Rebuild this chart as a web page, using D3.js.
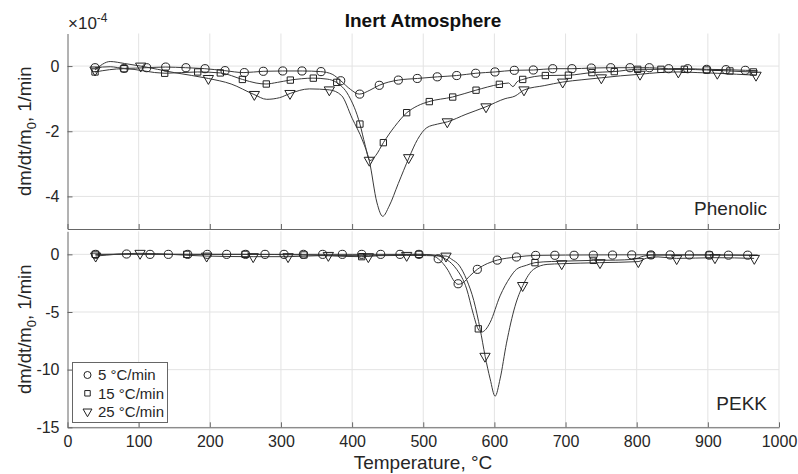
<!DOCTYPE html>
<html><head><meta charset="utf-8">
<script src="https://cdn.jsdelivr.net/npm/d3@7/dist/d3.min.js"></script>
<style>body{margin:0;background:#fff}svg{display:block}text{font-family:"Liberation Sans",Arial,sans-serif}</style>
</head><body>
<script>
// ---------- DATA ----------
const seriesNames = ["5 °C/min", "15 °C/min", "25 °C/min"];
const xTicks = [0,100,200,300,400,500,600,700,800,900,1000];
const phenolicTicks = [0,-2,-4];
const pekkTicks = [0,-5,-10,-15];

// Phenolic (×1e-4) lines [T, value]
const phen5Line = [[38.7,-0.05],[60,-0.02],[80,-0.07],[111,-0.05],[138,-0.03],[166,-0.05],[193,-0.08],[221,-0.14],[248,-0.2],[275,-0.16],[302,-0.15],[330,-0.15],[356,-0.17],[372,-0.25],[384,-0.45],[398,-0.72],[410,-0.86],[425,-0.74],[438,-0.59],[465,-0.43],[492,-0.38],[520,-0.33],[547,-0.29],[574,-0.22],[601,-0.18],[628,-0.13],[655,-0.12],[682,-0.08],[709,-0.08],[736,-0.06],[763,-0.05],[791,-0.05],[818,-0.05],[845,-0.08],[872,-0.08],[898,-0.1],[926,-0.11],[953,-0.13],[970,-0.14]];
const phen15Line = [[38.7,-0.18],[79,-0.08],[137,-0.22],[183,-0.18],[215,-0.21],[246,-0.41],[265,-0.52],[279,-0.55],[295,-0.5],[313,-0.43],[345,-0.37],[365,-0.4],[378,-0.5],[395,-0.9],[411,-1.78],[418,-2.4],[425,-2.9],[433,-2.75],[444,-2.35],[460,-1.85],[477,-1.43],[492,-1.22],[508,-1.09],[541,-0.95],[574,-0.74],[607,-0.56],[620,-0.52],[626,-0.63],[632,-0.48],[640,-0.41],[672,-0.29],[704,-0.28],[737,-0.2],[768,-0.17],[801,-0.1],[834,-0.1],[867,-0.1],[898,-0.12],[931,-0.15],[964,-0.18],[970,-0.18]];
const phen25Line = [[38.7,-0.12],[60,0.14],[80,0.08],[103,0.0],[150,-0.2],[198,-0.38],[230,-0.55],[262,-0.87],[280,-1.02],[298,-0.97],[313,-0.84],[340,-0.7],[368,-0.73],[385,-0.9],[400,-1.6],[415,-2.3],[424,-2.89],[435,-4.2],[443,-4.61],[452,-4.3],[465,-3.6],[480,-2.81],[492,-2.25],[505,-1.89],[520,-1.78],[534,-1.71],[560,-1.48],[588,-1.25],[615,-1.0],[629,-0.92],[642,-0.73],[670,-0.6],[696,-0.49],[723,-0.42],[750,-0.36],[777,-0.3],[805,-0.25],[831,-0.2],[858,-0.18],[886,-0.2],[913,-0.22],[940,-0.25],[968,-0.28]];
// Phenolic markers
const phen5Marks = [[38.7,-0.05],[79.5,-0.07],[111.3,-0.05],[138,-0.03],[166.5,-0.05],[193.3,-0.08],[221.4,-0.14],[248.5,-0.2],[275.2,-0.16],[302.5,-0.15],[329.6,-0.15],[356.3,-0.17],[384,-0.45],[410.7,-0.86],[438.2,-0.59],[465,-0.43],[491.6,-0.38],[519.7,-0.33],[547,-0.29],[573.7,-0.22],[600.8,-0.18],[628,-0.13],[654.7,-0.12],[682,-0.08],[709,-0.08],[736.2,-0.06],[763.5,-0.05],[790.6,-0.05],[817.7,-0.05],[845,-0.08],[871.7,-0.08],[898.4,-0.1],[925.5,-0.11],[952.6,-0.13]];
const phen15Marks = [[38.7,-0.18],[79.4,-0.08],[136.6,-0.22],[183,-0.18],[214.8,-0.21],[245.8,-0.41],[279.4,-0.55],[313.2,-0.43],[345.5,-0.37],[378.4,-0.5],[411,-1.78],[443.9,-2.35],[476.7,-1.43],[508.5,-1.09],[541.4,-0.95],[574.2,-0.74],[607,-0.56],[639.8,-0.41],[671.6,-0.29],[704,-0.28],[737,-0.2],[768.5,-0.17],[801.4,-0.1],[834,-0.1],[867,-0.1],[898.4,-0.12],[931,-0.15],[964,-0.18]];
const phen25Marks = [[38.7,-0.12],[102.9,0.0],[198,-0.38],[262.6,-0.87],[312.7,-0.84],[368,-0.73],[424.2,-2.89],[479.5,-2.81],[533.8,-1.71],[588.2,-1.25],[641.6,-0.73],[696,-0.49],[750.3,-0.36],[804.7,-0.25],[858.5,-0.18],[913.3,-0.22],[967.7,-0.28]];

// PEKK lines
const pekk5Line = [[39.6,0],[83,0.03],[116,0],[200,0],[300,0],[400,0],[494,0],[510,-0.05],[521,-0.38],[535,-1.4],[542,-2.2],[549,-2.6],[556,-2.46],[565,-1.9],[576,-1.3],[590,-0.8],[604,-0.5],[631,-0.23],[658,-0.09],[700,-0.06],[740,-0.05],[800,-0.04],[900,-0.05],[970,-0.06]];
const pekk15Line = [[39,-0.05],[100,0.02],[168,0],[250,0],[332,-0.05],[413,-0.2],[450,-0.05],[494,0],[515,-0.05],[528,-0.29],[540,-0.8],[547,-1.3],[561,-3.0],[570,-5.1],[577,-6.46],[582,-6.74],[588,-6.5],[594,-5.9],[608,-3.6],[622,-2.0],[631,-1.3],[645,-0.95],[657,-0.72],[680,-0.62],[702,-0.58],[739,-0.52],[770,-0.5],[795,-0.43],[810,-0.15],[820,-0.06],[900,-0.05],[970,-0.1]];
const pekk25Line = [[39.6,-0.15],[102,0.09],[196,-0.15],[261,-0.2],[310,-0.2],[367,-0.09],[423,-0.12],[477,-0.09],[532,-0.15],[540,-0.43],[551,-1.0],[561,-2.2],[571,-4.0],[580,-6.5],[587,-8.84],[594,-10.8],[601,-12.3],[608,-10.8],[617,-7.7],[629,-4.5],[640,-2.7],[655,-1.3],[674,-0.87],[695,-0.81],[748,-0.72],[802,-0.63],[815,-0.3],[830,-0.22],[856,-0.35],[910,-0.29],[965,-0.35]];
// PEKK markers
const pekk5Marks = [[39.6,0],[83,0.03],[116,0],[141.7,0],[169,0],[196.5,0],[223.7,0],[250.4,0],[277.6,0],[304.3,0],[331.5,0],[358.7,0],[386.3,0],[413.5,0],[440.2,0],[467.3,0],[494,0],[521,-0.38],[549,-2.55],[576,-1.3],[604,-0.5],[631,-0.23],[658,-0.09],[685,-0.08],[712,-0.08],[739,-0.07],[766,-0.06],[793,-0.05],[820,-0.05],[847,-0.05],[874,-0.05],[902,-0.07],[929,-0.07],[956,-0.07]];
const pekk15Marks = [[39,0],[167.5,0],[249.5,0],[332.4,-0.05],[413.5,-0.2],[494,0],[577.4,-6.46],[657,-0.72],[739,-0.52],[819.7,-0.06],[902,-0.05]];
const pekk25Marks = [[39.6,-0.15],[102,0.09],[195.6,-0.15],[261,-0.2],[310,-0.2],[366.6,-0.09],[422.8,-0.2],[476.7,-0.09],[532,-0.15],[586.8,-8.84],[639.7,-2.7],[694.6,-0.81],[748.4,-0.72],[802.3,-0.63],[856.2,-0.37],[910,-0.29],[965.3,-0.35]];

// ---------- CHART ----------
const W = 798, H = 474;
const FONT = '"Liberation Sans",Arial,sans-serif';
const svg = d3.select("body").append("svg").attr("width", W).attr("height", H);
const x = d3.scaleLinear().domain([0,1000]).range([67.5,779]);
const yTop = d3.scaleLinear().domain([-5,1]).range([229,33.5]);
const yBot = d3.scaleLinear().domain([-15,2]).range([427.3,231.3]);
const axisCol = "#666", textCol = "#262626", gridCol = "#e3e3e3", lineCol = "#3a3a3a";

const symTypes = [d3.symbolCircle, d3.symbolSquare, d3.symbolTriangle];
const symSizes = [52, 40, 46];

function panel(y, ticks, lines, marks, label, labelY, showX) {
  const g = svg.append("g");
  const [y0, y1] = y.range();
  // grid
  g.selectAll(".gx").data(xTicks.slice(1)).join("line")
    .attr("x1", d => x(d)).attr("x2", d => x(d)).attr("y1", y1).attr("y2", y0)
    .attr("stroke", gridCol).attr("stroke-width", 1);
  g.selectAll(".gy").data(ticks).join("line")
    .attr("x1", x(0)).attr("x2", x(1000)).attr("y1", d => y(d)).attr("y2", d => y(d))
    .attr("stroke", gridCol).attr("stroke-width", 1);
  // axes
  const ax = d3.axisBottom(x).tickValues(xTicks).tickFormat(d3.format("d")).tickSizeInner(-5).tickSizeOuter(0).tickPadding(8);
  const gx = g.append("g").attr("transform", `translate(0,${y0})`).call(ax);
  gx.selectAll("text").attr("font-size", 16).attr("fill", textCol).style("font-family", FONT);
  if (!showX) gx.selectAll("text").remove();
  const ay = d3.axisLeft(y).tickValues(ticks).tickSizeInner(-5).tickSizeOuter(0).tickPadding(8);
  const gy = g.append("g").attr("transform", `translate(${x(0)},0)`).call(ay);
  gy.selectAll("text").attr("font-size", 16).attr("fill", textCol).style("font-family", FONT).text(d => d < 0 ? "-" + Math.abs(d) : d);
  [gx, gy].forEach(a => { a.select(".domain").attr("stroke", axisCol); a.selectAll(".tick line").attr("stroke", axisCol); });
  // lines
  const line = d3.line().x(d => x(d[0])).y(d => y(d[1])).curve(d3.curveMonotoneX);
  lines.forEach(L => g.append("path").attr("d", line(L)).attr("fill", "none").attr("stroke", lineCol).attr("stroke-width", 1));
  // markers
  marks.forEach((M, i) => {
    const s = d3.symbol().type(symTypes[i]).size(symSizes[i]);
    g.selectAll(null).data(M).join("path").attr("d", s)
      .attr("transform", d => `translate(${x(d[0])},${y(d[1])})` + (i === 2 ? " rotate(180)" : ""))
      .attr("fill", "none").attr("stroke", "#222").attr("stroke-width", 1);
  });
  g.append("text").attr("x", 767).attr("y", labelY).attr("text-anchor", "end")
    .attr("font-size", 19).attr("fill", textCol).text(label);
  // y label
  const cy = (y0 + y1) / 2;
  const t = g.append("text").attr("transform", `translate(25,${cy}) rotate(-90)`).attr("text-anchor", "middle")
    .attr("font-size", 18.5).attr("fill", textCol).attr("dy", "0.35em");
  t.append("tspan").text("dm/dt/m");
  t.append("tspan").attr("font-size", 13).attr("dy", 5).text("0");
  t.append("tspan").attr("dy", -5).text(", 1/min");
}

panel(yTop, phenolicTicks, [phen5Line, phen15Line, phen25Line], [phen5Marks, phen15Marks, phen25Marks], "Phenolic", 215, false);
panel(yBot, pekkTicks, [pekk5Line, pekk15Line, pekk25Line], [pekk5Marks, pekk15Marks, pekk25Marks], "PEKK", 410, true);

// title
svg.append("text").attr("x", 423).attr("y", 27).attr("text-anchor", "middle")
  .attr("font-size", 19).attr("font-weight", "bold").attr("fill", "#111").text("Inert Atmosphere");
// exponent
const ex = svg.append("text").attr("x", 68).attr("y", 29).attr("font-size", 17).attr("fill", textCol);
ex.append("tspan").text("×10");
ex.append("tspan").attr("font-size", 12).attr("dy", -7).text("-4");
// x label
svg.append("text").attr("x", 423).attr("y", 469).attr("text-anchor", "middle")
  .attr("font-size", 19).attr("fill", textCol).text("Temperature, °C");

// legend
const lg = svg.append("g");
lg.append("rect").attr("x", 72.5).attr("y", 362.5).attr("width", 95).attr("height", 60)
  .attr("fill", "#fff").attr("stroke", axisCol).attr("stroke-width", 1);
seriesNames.forEach((n, i) => {
  const yy = 375 + i * 18.3;
  const s = d3.symbol().type(symTypes[i]).size(symSizes[i] * 0.75);
  lg.append("path").attr("d", s).attr("transform", `translate(87.5,${yy})` + (i === 2 ? " rotate(180)" : ""))
    .attr("fill", "none").attr("stroke", "#222");
  lg.append("text").attr("x", 98).attr("y", yy).attr("dy", "0.35em").attr("font-size", 15).attr("fill", textCol).text(n);
});
</script>
</body></html>
